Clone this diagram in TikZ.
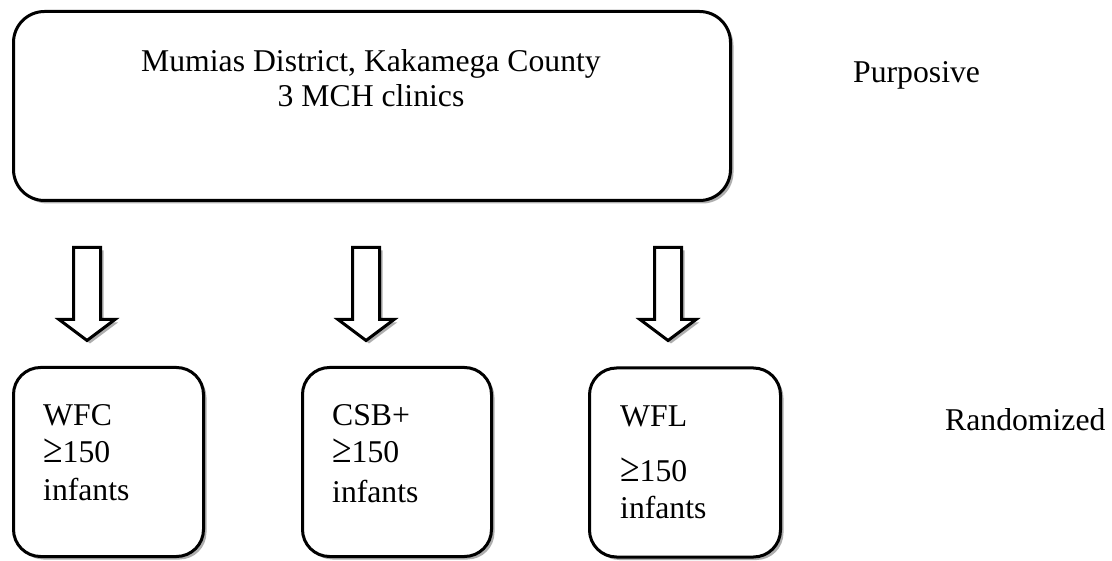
\documentclass[tikz,border=0pt]{standalone}
\usepackage{fontspec}
\usepackage{graphicx}
\setmainfont{Liberation Serif}
\usetikzlibrary{shadows}
\newcommand\bigge{\scalebox{1.12}[1.3]{≥}}
\begin{document}
\begin{tikzpicture}[x=1pt,y=-1pt,
  shade1/.style={drop shadow={shadow xshift=3pt,shadow yshift=-3pt,fill=black!45,opacity=0.7}},
  bigbox/.style={draw,line width=3pt,fill=white,rounded corners=31pt,shade1,inner sep=0pt,minimum width=717pt,minimum height=189pt},
  smallbox/.style={draw,line width=3pt,fill=white,rounded corners=27pt,shade1,inner sep=0pt,minimum height=189pt},
  lbl/.style={font=\fontsize{31.7}{38}\selectfont,inner sep=0pt,anchor=base west},
  clbl/.style={font=\fontsize{31.7}{38}\selectfont,inner sep=0pt,anchor=base},
  blockarrow/.style={draw,line width=3pt,fill=white,shade1,miter limit=10}]
\useasboundingbox (0,0) rectangle (1112,561);

% boxes
\node[bigbox] (top) at (372,106) {};
\node[smallbox,minimum width=190pt] (b1) at (108.5,462) {};
\node[smallbox,minimum width=189pt] (b2) at (397,462) {};
\node[smallbox,minimum width=191pt] (b3) at (685,462.5) {};

% top box text
\node[clbl] (t1) at (371,72) {Mumias District, Kakamega County};
\node[clbl] (t2) at (371,107) {3 MCH clinics};

% side labels
\node[lbl] (purp) at (853,83) {Purposive};
\node[lbl] (rand) at (945,431) {Randomized};

% bottom box texts
\node[lbl] (w1) at (43,425) {WFC};
\node[lbl] (w2) at (43,463) {\bigge150};
\node[lbl] (w3) at (43,500) {infants};
\node[lbl] (c1) at (332,426) {CSB+};
\node[lbl] (c2) at (332,462) {\bigge150};
\node[lbl] (c3) at (332,502) {infants};
\node[lbl] (l1) at (620,427) {WFL};
\node[lbl] (l2) at (620,482) {\bigge150};
\node[lbl] (l3) at (620,518) {infants};

% block arrows
\foreach \c/\n in {87/a1,366/a2,668/a3}{
  \coordinate (\n) at (\c-13.5,247.5);
  \path[blockarrow] (\n) -- ++(27,0) -- ++(0,72) -- ++(14.5,0) -- ++(-28,21)
     -- ++(-28,-21) -- ++(14.5,0) -- cycle;
}
\end{tikzpicture}
\end{document}
